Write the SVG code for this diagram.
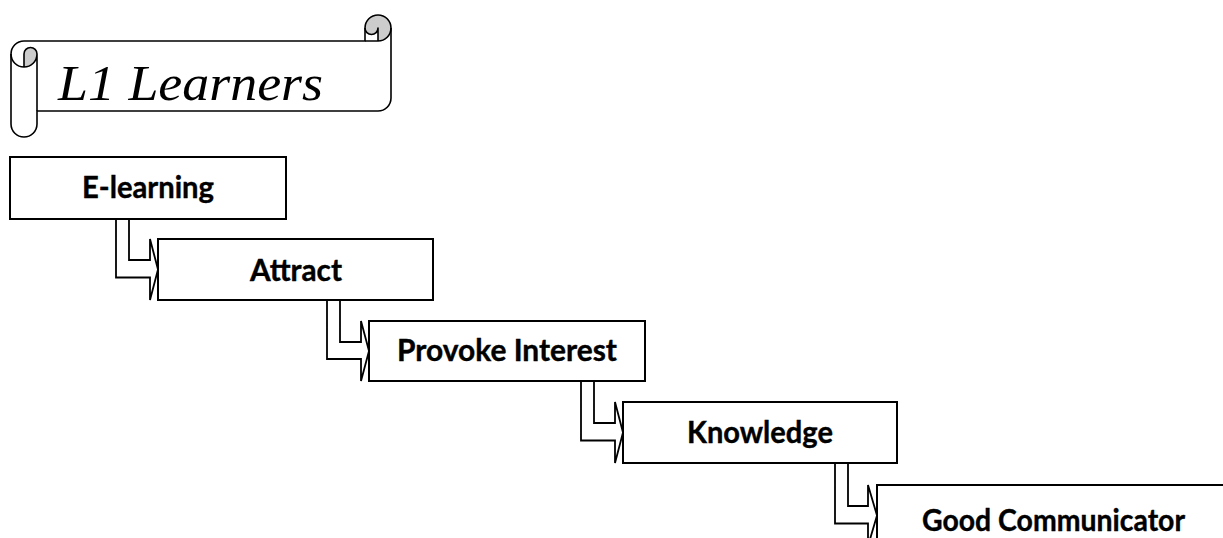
<svg xmlns="http://www.w3.org/2000/svg" width="1223" height="538" viewBox="0 0 1223 538">
  <style>
    .box { fill: #ffffff; stroke: #000000; stroke-width: 2; }
    .lbl { font-family: Lato, "Open Sans", "Liberation Sans", sans-serif; font-weight: bold; font-size: 30px; fill: #000000; stroke: #000000; stroke-width: 0.4; text-anchor: middle; }
    .conn { fill: #ffffff; stroke: #000000; stroke-width: 1.8; stroke-linejoin: miter; }
    .scroll { stroke: #000000; stroke-width: 1.6; stroke-linejoin: round; }
    .title { font-family: "Liberation Serif", serif; font-style: italic; font-size: 50px; fill: #000000; }
  </style>
  <rect width="1223" height="538" fill="#ffffff"/>

  <g id="banner">
    <path fill="#ffffff" stroke="none" d="M 11 54 A 13 13 0 0 1 24 41 L 365 41 L 365 28 A 13 13 0 0 1 391 28 L 391 98 A 13 13 0 0 1 378 111 L 37 111 L 37 124 A 13 13 0 0 1 11 124 Z"/>
    <path fill="#cccccc" stroke="none" d="M 24 67 A 13 13 0 0 0 37 54 A 6.5 6.5 0 0 0 24 54 Z"/>
    <path fill="#cccccc" stroke="none" d="M 378 41 A 13 13 0 0 1 378 15 A 13 13 0 0 1 378 41 Z"/>
    <path fill="#ffffff" stroke="none" d="M 365 41 L 365 28 A 6.5 6.5 0 0 0 378 28 L 378 41 Z"/>
    <path class="scroll" fill="none" d="M 11 54 A 13 13 0 0 1 24 41 L 365 41 L 365 28 A 13 13 0 0 1 391 28 L 391 98 A 13 13 0 0 1 378 111 L 37 111 L 37 124 A 13 13 0 0 1 11 124 Z"/>
    <path class="scroll" fill="none" d="M 365 41 L 378 41 A 13 13 0 0 0 391 28 M 378 41 L 378 28 A 6.5 6.5 0 0 1 365 28 M 24 67 L 24 54 A 6.5 6.5 0 0 1 37 54 A 13 13 0 0 1 11 54 M 37 54 L 37 111"/>
    <text class="title" x="58" y="100" textLength="265" lengthAdjust="spacingAndGlyphs">L1 Learners</text>
  </g>

  <g id="connectors">
    <path class="conn" d="M 116 219 V 277.5 H 150 V 300 L 158 269.5 L 150 239 V 260 H 129 V 219"/>
    <path class="conn" d="M 327 300 V 359 H 361 V 381 L 369 351 L 361 321 V 342 H 340 V 300"/>
    <path class="conn" d="M 581 381 V 440.5 H 615 V 463 L 623 432.5 L 615 402 V 423 H 594 V 381"/>
    <path class="conn" d="M 835 463 V 523.5 H 868 V 546 L 877 515.5 L 868 485 V 506 H 848 V 463"/>
  </g>

  <g id="node-elearning">
    <rect class="box" x="10" y="157" width="276" height="62"/>
    <text class="lbl" x="148" y="198" textLength="132" lengthAdjust="spacingAndGlyphs">E-learning</text>
  </g>
  <g id="node-attract">
    <rect class="box" x="158" y="239" width="275" height="61"/>
    <text class="lbl" x="296" y="281" textLength="92" lengthAdjust="spacingAndGlyphs">Attract</text>
  </g>
  <g id="node-provoke">
    <rect class="box" x="369" y="321" width="276" height="60"/>
    <text class="lbl" x="507" y="361" textLength="220" lengthAdjust="spacingAndGlyphs">Provoke Interest</text>
  </g>
  <g id="node-knowledge">
    <rect class="box" x="623" y="402" width="274" height="61"/>
    <text class="lbl" x="760" y="443" textLength="146" lengthAdjust="spacingAndGlyphs">Knowledge</text>
  </g>
  <g id="node-good">
    <rect class="box" x="877" y="485" width="353" height="61"/>
    <text class="lbl" x="1053.5" y="531" textLength="263" lengthAdjust="spacingAndGlyphs">Good Communicator</text>
  </g>
</svg>
